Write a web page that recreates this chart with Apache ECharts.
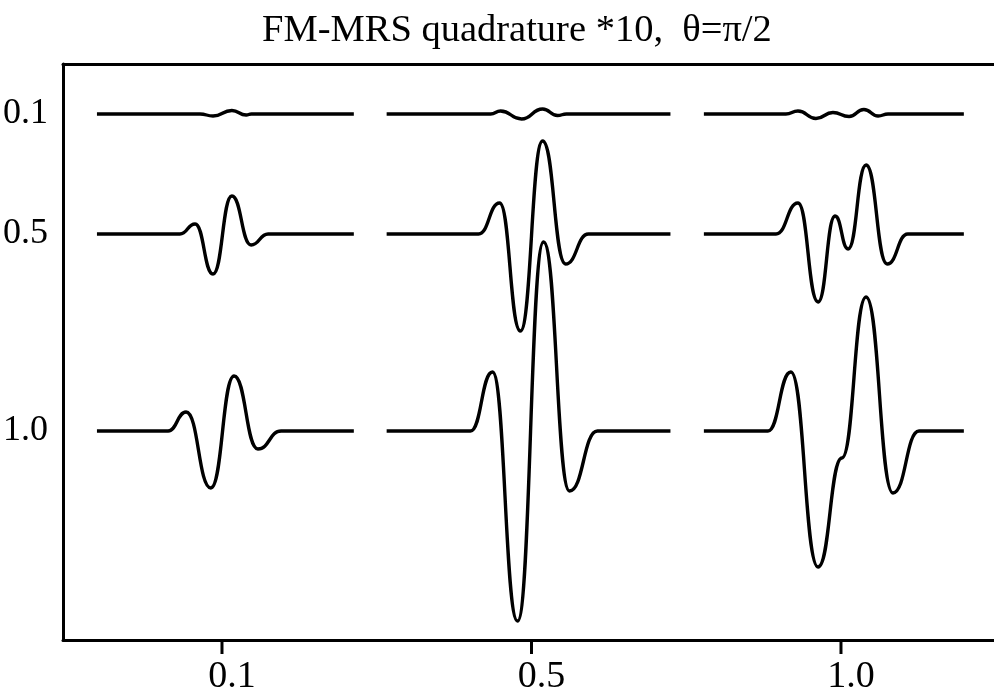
<!DOCTYPE html>
<html><head><meta charset="utf-8">
<script src="https://cdn.jsdelivr.net/npm/echarts@6/dist/echarts.min.js"></script>
<style>html,body{margin:0;padding:0;background:#fff}#c{width:994px;height:700px}</style>
</head><body><div id="c"></div>
<script>
const titleText = 'FM-MRS quadrature *10,  θ=π/2';

// column positions on the x axis and their labels
const colPos = [1, 2, 3];
const colLabels = ['0.1', '0.5', '1.0'];
// row baselines on the y axis and their labels
const rowPos = [52.6, 40.6, 20.9];
const rowLabels = ['0.1', '0.5', '1.0'];

// traces: local time (offset from column position) and amplitude (offset from row baseline)
// column 0.1
const t_r1_c1 = [-0.404, -0.071, -0.029, 0.032, 0.078, 0.095, 0.426];
const a_r1_c1 = [0, 0, -0.2, 0.35, -0.1, 0, 0];
const t_r2_c1 = [-0.404, -0.136, -0.087, -0.029, 0.032, 0.094, 0.149, 0.426];
const a_r2_c1 = [0, 0, 1.0, -4.0, 3.8, -1.1, 0, 0];
const t_r3_c1 = [-0.404, -0.174, -0.116, -0.036, 0.039, 0.116, 0.191, 0.426];
const a_r3_c1 = [0, 0, 1.9, -5.7, 5.5, -1.8, 0, 0];
// column 0.5
const t_r1_c2 = [-0.468, -0.132, -0.100, -0.032, 0.036, 0.084, 0.113, 0.449];
const a_r1_c2 = [0, 0, 0.3, -0.5, 0.5, -0.15, 0, 0];
const t_r2_c2 = [-0.468, -0.171, -0.103, -0.036, 0.036, 0.110, 0.184, 0.449];
const a_r2_c2 = [0, 0, 3.1, -9.7, 9.3, -3.0, 0, 0];
const t_r3_c2 = [-0.468, -0.197, -0.126, -0.045, 0.039, 0.123, 0.213, 0.449];
const a_r3_c2 = [0, 0, 5.9, -19.0, 18.9, -6.0, 0, 0];
// column 1.0
const t_r1_c3 = [-0.443, -0.178, -0.139, -0.081, -0.026, 0.026, 0.074, 0.120, 0.152, 0.397];
const a_r1_c3 = [0, 0, 0.3, -0.45, 0.15, -0.25, 0.45, -0.2, 0, 0];
const t_r2_c3 = [-0.443, -0.210, -0.139, -0.074, -0.019, 0.023, 0.081, 0.149, 0.216, 0.397];
const a_r2_c3 = [0, 0, 3.1, -6.8, 1.8, -1.5, 6.9, -3.0, 0, 0];
const t_r3_c3 = [-0.443, -0.236, -0.162, -0.074, 0.003, 0.081, 0.168, 0.252, 0.397];
const a_r3_c3 = [0, 0, 5.9, -13.6, -2.7, 13.4, -6.2, 0, 0];

const traces = [
  [0, 0, t_r1_c1, a_r1_c1], [1, 0, t_r2_c1, a_r2_c1], [2, 0, t_r3_c1, a_r3_c1],
  [0, 1, t_r1_c2, a_r1_c2], [1, 1, t_r2_c2, a_r2_c2], [2, 1, t_r3_c2, a_r3_c2],
  [0, 2, t_r1_c3, a_r1_c3], [1, 2, t_r2_c3, a_r2_c3], [2, 2, t_r3_c3, a_r3_c3]
];

const serif = "'Liberation Serif', 'Times New Roman', serif";
const xMin = 0.4863, xMax = 3.4944;

const series = traces.map(([r, c, ts, as]) => ({
  type: 'line',
  data: ts.map((t, i) => [colPos[c] + t, rowPos[r] + as[i]]),
  showSymbol: false,
  smooth: 0.5,
  smoothMonotone: 'x',
  lineStyle: { color: '#000', width: 3.4 },
  silent: true
}));

const chart = echarts.init(document.getElementById('c'), null, { renderer: 'canvas' });
chart.setOption({
  animation: false,
  backgroundColor: '#fff',
  title: {
    text: titleText,
    left: 262,
    top: 11,
    padding: 0,
    textStyle: { fontFamily: serif, fontSize: 38.5, fontWeight: 'normal', color: '#000' }
  },
  grid: { left: 63, top: 64, right: 0, bottom: 60, containLabel: false, outerBoundsMode: 'none' },
  xAxis: [{
    type: 'value',
    min: xMin,
    max: xMax,
    axisLine: { show: true, onZero: false, lineStyle: { color: '#000', width: 3 } },
    axisTick: { show: false },
    axisLabel: {
      customValues: colPos,
      // each label carries its own tick mark (a thin black block) above the number
      formatter: v => { const i = colPos.indexOf(v); return i >= 0 ? '{t| }\n{v|' + colLabels[i] + '}' : ''; },
      margin: 0,
      align: 'center',
      rich: {
        t: { width: 3, height: 14, lineHeight: 14, backgroundColor: '#000', fontSize: 1 },
        v: { fontFamily: serif, fontSize: 38, color: '#000', padding: [4, 0, 0, 20] }
      }
    },
    splitLine: { show: false }
  }, {
    type: 'value',
    position: 'top',
    min: xMin,
    max: xMax,
    axisLine: { show: true, onZero: false, lineStyle: { color: '#000', width: 3 } },
    axisTick: { show: false },
    axisLabel: { show: false },
    splitLine: { show: false }
  }],
  yAxis: {
    type: 'value',
    min: 0,
    max: 57.6,
    axisLine: { show: true, onZero: false, lineStyle: { color: '#000', width: 3 } },
    axisTick: { show: false },
    axisLabel: {
      customValues: rowPos,
      formatter: v => { const i = rowPos.indexOf(v); return i >= 0 ? rowLabels[i] : ''; },
      fontFamily: serif, fontSize: 36, color: '#000', margin: 15
    },
    splitLine: { show: false }
  },
  series: series
});
</script>
</body></html>
